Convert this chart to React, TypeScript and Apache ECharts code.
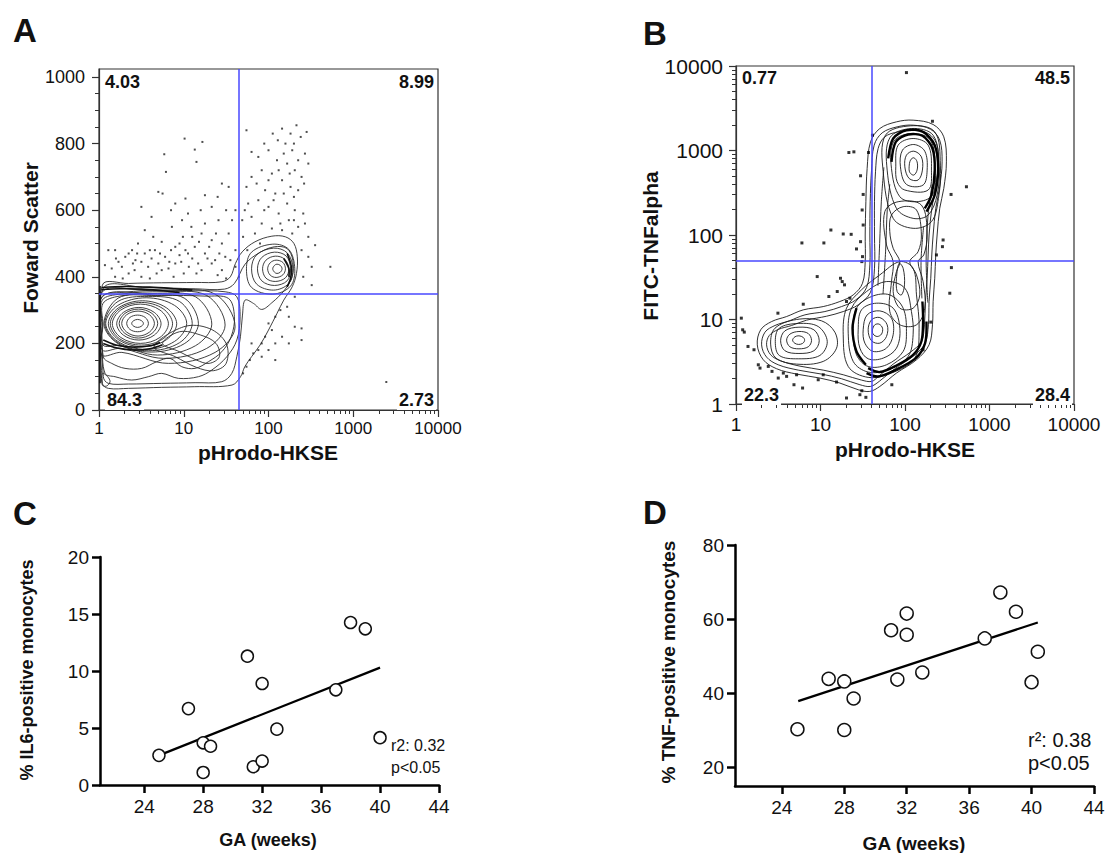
import React, { useEffect, useRef } from 'react';
import * as echarts from 'echarts';

const FONT = '"Liberation Sans", Arial, Helvetica, sans-serif';

// ---------- shared tick values ----------
const logTicks = [1, 10, 100, 1000, 10000];
const fscTicks = [0, 200, 400, 600, 800, 1000];
const fscMinorTicks = [50, 100, 150, 250, 300, 350, 450, 500, 550, 650, 700, 750, 850, 900, 950];
const gaTicks = [24, 28, 32, 36, 40, 44];
const il6Ticks = [0, 5, 10, 15, 20];
const tnfTicks = [20, 40, 60, 80];

// ---------- Panel A : [log10(pHrodo-HKSE), Forward Scatter] ----------
const gateA = [45, 350];
const quadA = ['4.03', '8.99', '84.3', '2.73'];

const contoursA = [
  [[0.04,375],[0.35,380],[0.74,382],[1.13,383],[1.45,385],[1.55,400],[1.61,440],[1.69,475],[1.84,505],[2.04,522],[2.20,520],[2.30,500],[2.34,460],[2.33,410],[2.28,370],[2.18,330],[2.10,290],[2.00,240],[1.90,195],[1.80,160],[1.72,130],[1.67,100],[1.57,75],[1.13,70],[0.74,68],[0.35,65],[0.11,65],[0.04,80]],
  [[0.051,365],[0.543,368],[1.134,364],[1.48,363],[1.598,380],[1.724,438],[1.89,472],[2.067,490],[2.217,485],[2.287,450],[2.276,400],[2.189,360],[2.039,322],[1.92,302],[1.823,320],[1.724,330],[1.693,285],[1.669,220],[1.626,160],[1.567,110],[1.449,85],[1.134,82],[0.74,80],[0.346,78],[0.11,80],[0.051,100]],
  [[0.039,355],[0.543,360],[1.134,358],[1.488,355],[1.626,340],[1.665,280],[1.626,210],[1.508,160],[1.331,120],[1.173,100],[0.937,95],[0.74,110],[0.583,100],[0.386,90],[0.189,100],[0.071,110],[0.039,200]],
  [[0.039,340],[0.74,344],[1.252,342],[1.528,335],[1.598,280],[1.559,220],[1.449,175],[1.291,145],[1.134,125],[0.976,130],[0.838,155],[0.681,145],[0.504,125],[0.307,125],[0.15,140],[0.051,160]],
  [[0.75,200],[0.95,175],[1.15,150],[1.3,140],[1.42,160],[1.38,200],[1.2,225],[0.95,235]],
  [[0.65,190],[0.9,160],[1.15,128],[1.35,118],[1.5,140],[1.5,200],[1.3,245],[1.0,250]],
  [[0.039,110],[0.102,100],[0.13,85],[0.09,72],[0.039,75]],
  [[0.386,260],[0.407,268],[0.455,272],[0.503,268],[0.524,260],[0.503,252],[0.455,248],[0.407,252]],
  [[0.327,260],[0.365,278],[0.455,285],[0.545,278],[0.583,260],[0.545,242],[0.455,235],[0.365,242]],
  [[0.268,260],[0.326,286],[0.461,297],[0.596,286],[0.654,260],[0.596,234],[0.461,222],[0.326,234]],
  [[0.238,260],[0.306,290],[0.465,303],[0.625,290],[0.693,260],[0.625,230],[0.465,216],[0.306,230]],
  [[0.209,259],[0.287,293],[0.47,308],[0.653,293],[0.732,259],[0.653,225],[0.47,210],[0.287,225]],
  [[0.157,259],[0.256,300],[0.488,318],[0.72,300],[0.819,259],[0.72,218],[0.488,200],[0.256,218]],
  [[0.133,259],[0.243,304],[0.5,323],[0.757,304],[0.868,259],[0.757,214],[0.5,195],[0.243,214]],
  [[0.11,259],[0.231,307],[0.513,328],[0.795,307],[0.917,259],[0.795,211],[0.513,190],[0.231,211]],
  [[0.079,260],[0.222,314],[0.557,337],[0.892,314],[1.035,260],[0.892,206],[0.557,182],[0.222,206]],
  [[0.069,260],[0.224,326],[0.586,341],[0.95,326],[1.1,260],[0.95,202],[0.586,178],[0.224,202]],
  [[0.059,259],[0.226,336],[0.616,344],[1.006,336],[1.173,259],[1.006,199],[0.616,174],[0.226,199]],
  [[0.047,258],[0.047,320],[0.24,342],[0.689,350],[1.138,340],[1.331,258],[1.138,193],[0.689,165],[0.24,193],[0.047,195]],
  [[0.039,255],[0.039,330],[0.257,348],[0.764,355],[1.271,344],[1.488,255],[1.271,185],[0.764,155],[0.257,185],[0.039,180]],
  [[0.035,250],[0.035,340],[0.27,353],[0.82,360],[1.37,348],[1.606,250],[1.37,173],[0.82,140],[0.27,173],[0.035,165]],
  [[2.05,424],[2.07,434],[2.10,438],[2.14,434],[2.16,424],[2.14,414],[2.10,410],[2.07,414]],
  [[1.99,424],[2.02,442],[2.09,450],[2.17,443],[2.20,424],[2.17,406],[2.09,398],[2.02,405]],
  [[1.93,424],[1.97,450],[2.08,462],[2.19,453],[2.24,424],[2.20,397],[2.08,386],[1.97,396]],
  [[1.87,424],[1.92,458],[2.07,474],[2.21,462],[2.26,424],[2.22,388],[2.07,374],[1.92,388]],
  [[1.80,424],[1.86,466],[2.06,486],[2.22,472],[2.29,424],[2.24,380],[2.06,360],[1.86,378]],
  [[1.74,424],[1.80,474],[2.05,498],[2.24,482],[2.31,424],[2.26,372],[2.05,348],[1.80,368]],
];

const ridgesA = [
  [[0.03,368],[0.3,371],[0.6,369],[0.9,364],[1.1,360]],
  [[0.03,362],[0.25,364],[0.5,363],[0.75,358],[0.95,352]],
  [[0.05,200],[0.2,187],[0.4,180],[0.6,184],[0.75,196]],
  [[0.05,210],[0.2,195],[0.4,189],[0.6,193],[0.72,203]],
  [[0.012,372],[0.012,80]],
  [[2.22,470],[2.27,430],[2.26,395],[2.22,370]],
  [[2.18,455],[2.24,425],[2.24,400]],
];

const dotsA = [
  [1.74,840],[2.16,845],[2.26,830],[2.33,855],[2.45,835],[2.11,810],[2.20,800],[2.28,780],[2.43,770],[2.35,750],[2.47,740],[1.80,775],[1.88,760],[2.00,780],[2.10,750],[2.22,740],[2.31,720],[2.39,700],[1.92,720],[2.04,710],[2.16,690],[2.26,670],[2.35,660],[1.80,700],[1.74,670],[1.96,660],[2.08,650],[2.22,620],[2.31,600],[2.41,590],[1.88,630],[2.00,610],[2.12,590],[2.24,570],[2.35,550],[2.47,520],[2.55,495],[1.80,580],[1.92,560],[2.04,545],[2.16,540],[2.28,530],[1.69,570],[1.70,520],[1.84,530],[2.39,480],[2.47,460],[2.51,430],[2.41,400],[2.73,430],[2.51,375],
  [1.95,800],[2.05,830],[2.18,770],[2.30,800],[2.38,820],[2.25,710],[2.12,720],[2.0,690],[1.86,680],[2.42,680],[2.30,640],[2.18,650],[2.06,630],[1.95,600],[2.30,570],[2.43,560],[2.14,560],[1.76,620],[1.72,600],[1.90,500],[1.75,480],
  [1.01,815],[1.22,805],[1.13,782],[0.77,768],[1.15,745],[0.79,715],[1.45,680],[0.70,655],[1.02,635],[0.90,620],[1.25,645],[1.33,610],[1.53,670],[1.61,600],[1.41,570],[1.57,570],[0.54,540],[0.64,520],[0.74,505],[0.86,550],[0.98,570],[1.09,550],[1.21,530],[1.33,510],[1.45,500],[1.53,530],[0.46,500],[0.39,480],[0.31,460],[0.19,480],[0.11,480],[0.07,435],[0.15,425],[0.27,430],[0.43,450],[0.54,470],[0.66,480],[0.78,460],[0.90,490],[1.02,480],[1.13,490],[1.25,470],[1.37,450],[1.49,460],[1.61,480],[0.58,430],[0.74,420],[0.90,440],[1.06,430],[1.21,420],[1.33,440],[1.45,420],[0.35,410],[0.50,400],[0.19,400],[1.61,430],[1.15,410],
  [0.45,470],[0.62,455],[0.83,445],[0.95,465],[1.10,455],[1.28,455],[0.40,440],[0.70,440],[1.0,410],[0.88,400],[1.40,405],[0.23,445],[0.60,395],[1.18,505],[0.99,520],
  [0.2,455],[0.35,470],[0.5,445],[0.6,480],[0.72,470],[0.85,480],[0.97,445],[1.05,470],[1.17,440],[1.3,490],[1.42,470],[1.55,450],[1.65,400],[1.5,395],[0.28,395],[0.42,420],[0.68,410],[0.82,425],[0.95,500],[1.1,520],[1.25,560],[1.38,530],[1.2,600],[1.05,590],[0.85,600],[0.62,580],[0.5,610],[0.75,650],[1.4,640],[1.5,600],
  [2.00,260],[2.04,240],[1.96,220],[1.92,200],[1.88,180],[1.82,170],[1.78,150],[1.74,130],[1.70,110],[1.80,200],[2.08,280],[2.14,300],[2.24,280],[2.31,250],[2.39,210],[2.16,220],[2.24,200],[2.08,200],[2.00,180],[1.92,160],[2.08,150],[2.39,245],[2.31,340],[2.22,310],
  [3.39,84],
];

// ---------- Panel B : [log10(pHrodo-HKSE), log10(FITC-TNFalpha)] ----------
const gateB = [40, 50];
const quadB = ['0.77', '48.5', '22.3', '28.4'];

const contoursB = [
  [[2.096,3.359],[2.333,3.308],[2.459,3.162],[2.490,2.866],[2.459,2.551],[2.411,2.315],[2.380,2.000],[2.364,1.764],[2.352,1.488],[2.333,1.213],[2.325,0.937],[2.285,0.700],[2.136,0.523],[1.899,0.366],[1.702,0.208],[1.584,0.149],[1.446,0.169],[1.229,0.248],[0.993,0.307],[0.717,0.354],[0.481,0.417],[0.323,0.523],[0.252,0.700],[0.292,0.878],[0.422,0.976],[0.599,1.035],[0.796,1.114],[1.032,1.153],[1.229,1.213],[1.387,1.291],[1.497,1.429],[1.529,1.685],[1.529,2.000],[1.537,2.394],[1.552,2.788],[1.592,3.102],[1.702,3.260],[1.899,3.339]],
  [[2.096,3.300],[2.301,3.252],[2.411,3.122],[2.439,2.866],[2.411,2.571],[2.364,2.315],[2.333,2.000],[2.317,1.764],[2.305,1.488],[2.285,1.213],[2.277,0.937],[2.238,0.720],[2.104,0.571],[1.879,0.417],[1.694,0.267],[1.592,0.208],[1.466,0.228],[1.249,0.299],[1.013,0.354],[0.737,0.401],[0.500,0.464],[0.362,0.555],[0.303,0.700],[0.343,0.850],[0.461,0.929],[0.630,0.984],[0.816,1.055],[1.052,1.094],[1.249,1.153],[1.418,1.232],[1.545,1.378],[1.584,1.646],[1.584,2.000],[1.588,2.394],[1.604,2.768],[1.635,3.063],[1.730,3.209],[1.907,3.280]],
  [[2.096,3.240],[2.274,3.201],[2.372,3.083],[2.396,2.866],[2.364,2.591],[2.317,2.315],[2.285,2.000],[2.274,1.764],[2.262,1.488],[2.242,1.213],[2.230,0.937],[2.195,0.740],[2.065,0.614],[1.860,0.472],[1.686,0.326],[1.604,0.267],[1.485,0.283],[1.269,0.346],[1.032,0.401],[0.757,0.448],[0.528,0.511],[0.410,0.582],[0.362,0.700],[0.394,0.811],[0.500,0.882],[0.658,0.929],[0.835,0.992],[1.072,1.039],[1.269,1.094],[1.446,1.173],[1.592,1.323],[1.639,1.606],[1.639,2.000],[1.639,2.394],[1.651,2.748],[1.682,3.024],[1.761,3.162],[1.919,3.221]],
  [[0.670,0.756],[0.697,0.795],[0.745,0.807],[0.796,0.788],[0.812,0.752],[0.788,0.717],[0.741,0.705],[0.694,0.720]],
  [[0.599,0.756],[0.638,0.827],[0.745,0.858],[0.855,0.834],[0.894,0.752],[0.855,0.677],[0.745,0.653],[0.638,0.677]],
  [[0.528,0.748],[0.579,0.866],[0.745,0.909],[0.922,0.878],[0.985,0.748],[0.922,0.630],[0.745,0.598],[0.579,0.630]],
  [[0.465,0.740],[0.512,0.897],[0.737,0.953],[0.973,0.917],[1.080,0.740],[0.993,0.575],[0.737,0.535],[0.512,0.575]],
  [[0.410,0.709],[0.461,0.897],[0.717,1.000],[1.013,0.984],[1.170,0.850],[1.190,0.661],[1.032,0.504],[0.717,0.472],[0.473,0.543]],
  [[1.615,0.878],[1.643,0.937],[1.694,0.945],[1.734,0.897],[1.722,0.827],[1.671,0.799],[1.623,0.827]],
  [[1.564,0.878],[1.604,0.996],[1.702,1.023],[1.789,0.937],[1.781,0.799],[1.702,0.720],[1.604,0.748]],
  [[1.505,0.878],[1.552,1.055],[1.702,1.102],[1.840,1.016],[1.860,0.819],[1.781,0.661],[1.623,0.622],[1.525,0.720]],
  [[1.446,0.878],[1.485,1.114],[1.663,1.193],[1.860,1.134],[1.939,0.897],[1.899,0.661],[1.742,0.543],[1.564,0.535],[1.466,0.661]],
  [[1.387,0.858],[1.426,1.134],[1.604,1.272],[1.820,1.291],[1.978,1.134],[2.017,0.858],[1.978,0.622],[1.781,0.464],[1.564,0.444],[1.426,0.582]],
  [[1.328,0.838],[1.367,1.134],[1.545,1.331],[1.781,1.449],[1.998,1.370],[2.076,1.094],[2.096,0.819],[2.037,0.563],[1.801,0.405],[1.564,0.378],[1.387,0.504]],
  [[1.269,0.819],[1.308,1.134],[1.485,1.351],[1.702,1.528],[1.939,1.685],[2.096,1.606],[2.136,1.291],[2.167,0.897],[2.116,0.543],[1.840,0.366],[1.564,0.315],[1.328,0.444]],
  [[2.049,2.807],[2.065,2.886],[2.104,2.914],[2.143,2.866],[2.143,2.768],[2.104,2.709],[2.057,2.740]],
  [[1.998,2.807],[2.017,2.945],[2.104,2.992],[2.194,2.925],[2.206,2.768],[2.155,2.650],[2.049,2.669]],
  [[1.946,2.807],[1.970,3.004],[2.104,3.071],[2.234,2.992],[2.262,2.768],[2.214,2.591],[2.017,2.599]],
  [[1.891,2.807],[1.919,3.063],[2.096,3.142],[2.274,3.063],[2.313,2.768],[2.274,2.532],[1.998,2.532],[1.907,2.630]],
  [[1.840,2.788],[1.868,3.110],[2.088,3.201],[2.301,3.122],[2.356,2.788],[2.325,2.473],[2.136,2.394],[1.939,2.453]],
  [[1.789,2.768],[1.820,3.150],[2.076,3.260],[2.333,3.181],[2.404,2.807],[2.380,2.473],[2.274,2.236],[2.096,2.197],[1.899,2.315]],
  [[1.742,2.748],[1.769,3.181],[2.065,3.292],[2.352,3.221],[2.419,2.827],[2.396,2.433],[2.313,2.158],[2.096,2.079],[1.860,2.197]],
  [[1.840,2.236],[1.978,2.335],[2.136,2.296],[2.194,2.000],[2.155,1.803],[2.057,1.685],[2.136,1.528],[2.175,1.291],[2.096,1.134],[1.939,1.134],[1.860,1.331],[1.899,1.567],[1.939,1.685],[1.860,1.843],[1.820,2.040]],
  [[1.761,2.276],[1.919,2.394],[2.194,2.354],[2.262,2.000],[2.222,1.764],[2.155,1.685],[2.214,1.449],[2.234,1.134],[2.136,0.937],[1.939,0.937],[1.820,1.094],[1.840,1.449],[1.860,1.685],[1.781,1.882]],
  [[1.899,1.488],[1.930,1.665],[1.978,1.606],[1.994,1.410],[1.958,1.291],[1.907,1.331]],
];

const linesB = [
  [[1.68,1.40],[1.70,1.90],[1.72,2.40],[1.75,2.80]],
  [[1.74,1.30],[1.77,1.80],[1.79,2.30],[1.82,2.60]],
  [[2.27,1.20],[2.25,1.70],[2.27,2.20],[2.32,2.60]],
  [[2.20,1.25],[2.19,1.70],[2.22,2.10]],
];

const ridgesB = [
  [[1.801,2.906],[1.860,3.142],[2.017,3.240],[2.214,3.221],[2.352,3.063],[2.392,2.788],[2.352,2.473],[2.254,2.276]],
  [[1.840,2.866],[1.891,3.102],[2.037,3.189],[2.206,3.174],[2.325,3.024],[2.352,2.768],[2.313,2.473],[2.234,2.315]],
  [[1.564,0.425],[1.702,0.378],[1.899,0.456],[2.096,0.582],[2.194,0.740],[2.214,0.976],[2.206,1.213]],
  [[1.545,0.366],[1.682,0.326],[1.891,0.405],[2.128,0.543],[2.238,0.720],[2.254,0.976]],
  [[1.426,1.134],[1.379,0.897],[1.426,0.622],[1.537,0.464]],
];

const dotsB = [
  [2.017,3.922],[2.325,3.346],[1.615,3.181],[1.336,2.976],[1.395,2.984],[1.568,2.976],[1.474,2.701],[1.505,2.480],[1.493,2.296],[1.505,2.118],
  [1.123,2.059],[1.269,2.012],[1.363,2.008],[1.040,1.906],[0.780,1.906],[1.474,1.921],[1.426,1.835],[1.497,1.744],[1.489,1.685],[0.961,1.508],
  [1.237,1.488],[1.257,1.449],[1.284,1.410],[1.198,1.331],[1.099,1.272],[1.348,1.252],[1.308,1.213],[0.796,1.181],[0.496,1.075],[0.063,1.016],
  [0.079,0.878],[0.098,0.851],[0.142,0.681],[0.213,0.642],[0.264,0.464],[0.382,0.445],[0.426,0.386],[0.500,0.307],[0.560,0.366],[0.717,0.346],
  [0.686,0.228],[0.788,0.189],[0.973,0.287],[1.190,0.260],[1.308,0.071],[1.466,0.110],[1.537,0.079],[1.489,0.157],[1.844,0.228],[2.214,0.642],
  [2.305,0.969],[2.451,1.941],[2.443,1.862],[2.372,1.764],[2.545,2.480],[2.727,2.571],[2.549,1.614],[2.530,1.311],[0.284,0.425],[0.599,0.327],[1.032,0.346],
];

// ---------- Panel C ----------
const gaC = [25, 27, 28, 28.5, 28, 31, 32, 31.4, 32, 33, 37, 38, 39, 40];
const il6C = [2.6, 6.7, 3.7, 3.4, 1.1, 11.3, 8.9, 1.6, 2.1, 4.9, 8.35, 14.25, 13.7, 4.15];
const fitC = [[25, 2.6], [40, 10.3]];
const statsC = ['r2: 0.32', 'p<0.05'];

// ---------- Panel D ----------
const gaD = [25, 27, 28, 28.6, 28, 31, 32, 32, 31.4, 33, 37, 38, 39, 40.4, 40];
const tnfD = [30.3, 43.9, 43.2, 38.6, 30.1, 57.0, 61.5, 55.8, 43.7, 45.6, 54.8, 67.2, 62.0, 51.2, 43.0];
const fitD = [[25.05, 37.9], [40.4, 59.1]];
const statsD = ['r\u00b2: 0.38', 'p<0.05'];

// ---------- helpers ----------
const minorDecades: number[] = [];
[0, 1, 2, 3].forEach((d) => [2, 3, 4, 5, 6, 7, 8, 9].forEach((k) => minorDecades.push(d + Math.log10(k))));

const logFmt = (v: number) => String(Math.round(v));

function contourSeries(loops: number[][][], closed: boolean, xi: number, yi: number, yLog: boolean, color: string, width: number, z: number) {
  const tx = (p: number[]) => [Math.pow(10, p[0]), yLog ? Math.pow(10, p[1]) : p[1]];
  return {
    type: 'custom',
    xAxisIndex: xi,
    yAxisIndex: yi,
    silent: true,
    clip: true,
    z,
    encode: { x: 0, y: 1 },
    data: loops.map((l, i) => [...tx(l[0]), i]),
    renderItem: (_params: any, api: any) => {
      const loop = loops[api.value(2)];
      const points = loop.map((p) => api.coord(tx(p)));
      return {
        type: closed ? 'polygon' : 'polyline',
        shape: { points, smooth: closed ? 0.35 : 0.3 },
        style: { fill: 'none', stroke: color, lineWidth: width },
      };
    },
  };
}

function flowX(grid: number, fontSize: number, margin: number) {
  return [
    {
      gridIndex: grid, type: 'log', logBase: 10, min: 1, max: 10000,
      axisLine: { lineStyle: { color: '#333', width: 1.2 } },
      axisTick: { length: 7, lineStyle: { color: '#333', width: 1.2 } },
      axisLabel: { fontSize, margin, color: '#111', fontFamily: FONT, formatter: logFmt },
      splitLine: { show: false },
    },
    {
      gridIndex: grid, type: 'value', min: 0, max: 4, position: 'bottom',
      axisLine: { show: false }, axisLabel: { show: false }, splitLine: { show: false },
      axisTick: { length: 4, customValues: minorDecades, lineStyle: { color: '#333', width: 1 } },
    },
  ];
}

function graphX(grid: number, fontSize: number) {
  return {
    gridIndex: grid, type: 'value', min: 21, max: 44,
    axisLine: { lineStyle: { color: '#000', width: 2.5 } },
    axisTick: { length: 8, customValues: gaTicks, lineStyle: { color: '#000', width: 2.5 } },
    axisLabel: { customValues: gaTicks, fontSize, margin: 12, color: '#111', fontFamily: FONT },
    splitLine: { show: false },
  };
}

function graphY(grid: number, min: number, max: number, ticks: number[], fontSize: number) {
  return {
    gridIndex: grid, type: 'value', min, max,
    axisLine: { show: true, lineStyle: { color: '#000', width: 2.5 } },
    axisTick: { show: true, length: 8, customValues: ticks, lineStyle: { color: '#000', width: 2.5 } },
    axisLabel: { customValues: ticks, fontSize, margin: 11, color: '#111', fontFamily: FONT },
    splitLine: { show: false },
  };
}

function T(x: number, y: number, text: string, size: number, o: any = {}) {
  return {
    type: 'text', x, y, rotation: o.rot || 0, z: 100, silent: true,
    style: {
      text,
      fontSize: size,
      fontWeight: o.bold ? 'bold' : 'normal',
      fontFamily: FONT,
      fill: '#111',
      align: o.align || 'center',
      verticalAlign: 'middle',
      backgroundColor: o.bg,
      padding: o.bg ? [1, 2, 1, 2] : 0,
    },
  };
}

function buildOption() {
  const frame = { show: true, borderColor: '#333', borderWidth: 1.2, backgroundColor: '#fff' };
  const gateLine = (g: number[]) => ({
    silent: true,
    symbol: ['none', 'none'],
    label: { show: false },
    lineStyle: { color: '#4848ff', width: 1.5, type: 'solid' },
    data: [{ xAxis: g[0] }, { yAxis: g[1] }],
  });
  const circle = (size: number) => ({
    symbol: 'circle', symbolSize: size,
    itemStyle: { color: '#fff', borderColor: '#111', borderWidth: 1.5, opacity: 1 },
  });

  return {
    animation: false,
    backgroundColor: '#fff',
    grid: [
      { left: 99, top: 69, width: 339, height: 341, ...frame },
      { left: 736, top: 66, width: 338, height: 338, ...frame },
      { left: 100, top: 557, width: 339, height: 228 },
      { left: 735, top: 545, width: 359, height: 241 },
    ],
    xAxis: [
      ...flowX(0, 17, 10),
      ...flowX(1, 19, 11),
      graphX(2, 19),
      graphX(3, 19),
    ],
    yAxis: [
      {
        gridIndex: 0, type: 'value', min: 0, max: 1024,
        axisLine: { show: true, lineStyle: { color: '#333', width: 1.2 } },
        axisTick: { show: true, length: 7, customValues: fscTicks, lineStyle: { color: '#333', width: 1.2 } },
        axisLabel: { customValues: fscTicks, fontSize: 18, margin: 14, color: '#111', fontFamily: FONT, formatter: (v: number) => String(v) },
        splitLine: { show: false },
      },
      {
        gridIndex: 0, type: 'value', min: 0, max: 1024, position: 'left',
        axisLine: { show: false }, axisLabel: { show: false }, splitLine: { show: false },
        axisTick: { show: true, length: 4, customValues: fscMinorTicks, lineStyle: { color: '#333', width: 1 } },
      },
      {
        gridIndex: 1, type: 'log', logBase: 10, min: 1, max: 10000,
        axisLine: { show: true, lineStyle: { color: '#333', width: 1.2 } },
        axisTick: { show: true, length: 7, lineStyle: { color: '#333', width: 1.2 } },
        axisLabel: { fontSize: 21, margin: 13, color: '#111', fontFamily: FONT, formatter: logFmt },
        splitLine: { show: false },
      },
      {
        gridIndex: 1, type: 'value', min: 0, max: 4, position: 'left',
        axisLine: { show: false }, axisLabel: { show: false }, splitLine: { show: false },
        axisTick: { show: true, length: 4, customValues: minorDecades, lineStyle: { color: '#333', width: 1 } },
      },
      graphY(2, 0, 20, il6Ticks, 19),
      graphY(3, 15, 80, tnfTicks, 19),
    ],
    series: [
      contourSeries(contoursA, true, 0, 0, false, '#2a2a2a', 0.9, 2),
      contourSeries(ridgesA, false, 0, 0, false, '#111', 1.6, 2),
      {
        type: 'scatter', xAxisIndex: 0, yAxisIndex: 0, silent: true, z: 3,
        symbol: 'rect', symbolSize: 2, itemStyle: { color: '#222' },
        data: dotsA.map((p) => [Math.pow(10, p[0]), p[1]]),
        markLine: gateLine(gateA),
      },
      contourSeries(contoursB, true, 2, 2, true, '#1a1a1a', 0.9, 2),
      contourSeries(linesB, false, 2, 2, true, '#1a1a1a', 0.9, 2),
      contourSeries(ridgesB, false, 2, 2, true, '#000', 2.4, 2),
      {
        type: 'scatter', xAxisIndex: 2, yAxisIndex: 2, silent: true, z: 3,
        symbol: 'rect', symbolSize: 3, itemStyle: { color: '#000' },
        data: dotsB.map((p) => [Math.pow(10, p[0]), Math.pow(10, p[1])]),
        markLine: gateLine(gateB),
      },
      {
        type: 'line', xAxisIndex: 4, yAxisIndex: 4, silent: true, z: 3,
        symbol: 'none', lineStyle: { color: '#000', width: 2.3 }, data: fitC,
      },
      {
        type: 'scatter', xAxisIndex: 4, yAxisIndex: 4, silent: true, z: 5, ...circle(12),
        data: gaC.map((x, i) => [x, il6C[i]]),
      },
      {
        type: 'line', xAxisIndex: 5, yAxisIndex: 5, silent: true, z: 3,
        symbol: 'none', lineStyle: { color: '#000', width: 2.3 }, data: fitD,
      },
      {
        type: 'scatter', xAxisIndex: 5, yAxisIndex: 5, silent: true, z: 5, ...circle(13),
        data: gaD.map((x, i) => [x, tnfD[i]]),
      },
    ],
    graphic: [
      // panel A
      T(25, 30, 'A', 33, { bold: true }),
      T(30, 238, 'Foward Scatter', 21, { bold: true, rot: Math.PI / 2 }),
      T(268, 452, 'pHrodo-HKSE', 21, { bold: true }),
      T(103, 82, quadA[0], 18, { bold: true, align: 'left', bg: '#fff' }),
      T(436, 82, quadA[1], 18, { bold: true, align: 'right', bg: '#fff' }),
      T(105, 400, quadA[2], 18, { bold: true, align: 'left', bg: '#fff' }),
      T(436, 400, quadA[3], 18, { bold: true, align: 'right', bg: '#fff' }),
      // panel B
      T(655, 33, 'B', 33, { bold: true }),
      T(650, 246, 'FITC-TNFalpha', 21, { bold: true, rot: Math.PI / 2 }),
      T(905, 449, 'pHrodo-HKSE', 21, { bold: true }),
      T(740, 78, quadB[0], 18, { bold: true, align: 'left', bg: '#fff' }),
      T(1072, 78, quadB[1], 18, { bold: true, align: 'right', bg: '#fff' }),
      T(742, 395, quadB[2], 18, { bold: true, align: 'left', bg: '#fff' }),
      T(1072, 395, quadB[3], 18, { bold: true, align: 'right', bg: '#fff' }),
      // panel C
      T(25, 513, 'C', 33, { bold: true }),
      T(27, 670, '% IL6-positive monocytes', 18, { bold: true, rot: Math.PI / 2 }),
      T(268, 840, 'GA (weeks)', 18, { bold: true }),
      T(391, 745, statsC[0], 16, { align: 'left' }),
      T(391, 767, statsC[1], 16, { align: 'left' }),
      // panel D
      T(655, 512, 'D', 33, { bold: true }),
      T(668, 662, '% TNF-positive monocytes', 19, { bold: true, rot: Math.PI / 2 }),
      T(914, 843, 'GA (weeks)', 19, { bold: true }),
      T(1028, 740, statsD[0], 20, { align: 'left' }),
      T(1028, 763, statsD[1], 20, { align: 'left' }),
    ],
  };
}

export default function App() {
  const ref = useRef<HTMLDivElement>(null);
  useEffect(() => {
    const chart = echarts.init(ref.current as HTMLDivElement, null, { renderer: 'svg' });
    chart.setOption(buildOption() as any);
    return () => chart.dispose();
  }, []);
  return <div ref={ref} style={{ position: 'absolute', left: 0, top: 0, width: 1108, height: 853, background: '#fff' }} />;
}
